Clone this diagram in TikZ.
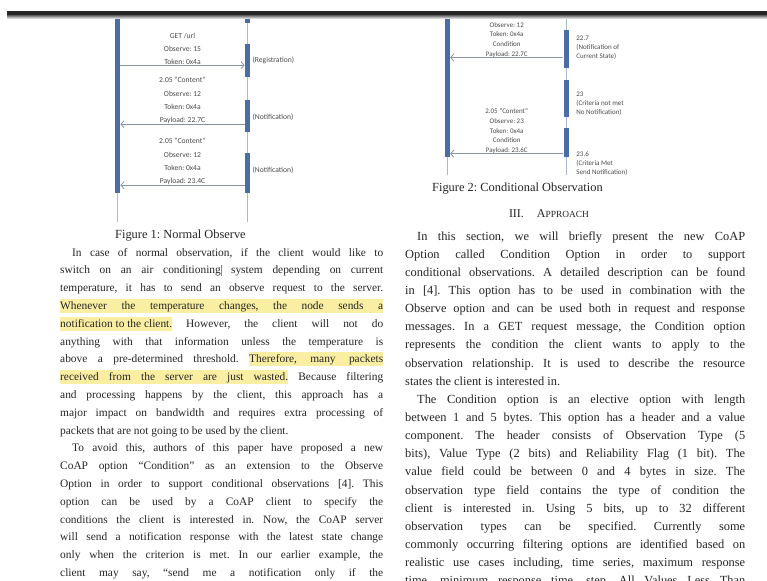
\documentclass[tikz,border=0pt]{standalone}
\usepackage{fontspec}
\setmainfont{Liberation Serif}
\newfontfamily\figfont{Carlito}
\usepackage{tikz}
\usetikzlibrary{arrows.meta, positioning, calc}

\definecolor{barblue}{HTML}{4A6DA3}
\definecolor{lifeblue}{HTML}{A8BAD3}
\definecolor{msggray}{HTML}{8794A6}
\definecolor{hlyellow}{HTML}{FAEEA2}
\definecolor{inkgray}{HTML}{262626}

\newcommand{\jline}[1]{\makebox[\linewidth][s]{#1}}
\newcommand{\hlbox}[1]{{\setlength{\fboxsep}{0pt}\colorbox{hlyellow}{\rule[-3.5pt]{0pt}{14pt}#1}}}
\newcommand{\hlpart}[2]{\hlbox{\makebox[#1][s]{#2}}}
\newcommand{\hlline}[1]{\hlbox{\jline{#1}}}
\newcommand{\cursormark}{\textcolor{black!45}{\rule[-2pt]{0.5pt}{11pt}}}

\tikzset{
  actbar/.style    = {rectangle, fill=barblue, draw=none, inner sep=0pt,
                      minimum width=5.5pt, anchor=north},
  lifeline/.style  = {draw=lifeblue, line width=0.9pt},
  msg/.style       = {draw=msggray, line width=0.8pt,
                      -{Straight Barb[length=3pt,width=7pt]}},
  bodytext/.style  = {inner sep=0pt, anchor=base west, align=justify,
                      text=black!85}
}

\begin{document}
\frenchspacing
\begin{tikzpicture}[
    x=1pt, y=-1pt,
    msglabel/.style   = {inner sep=0pt, align=center, text=black!70, anchor=south,
                         font=\figfont\fontsize{7.6}{13.3}\selectfont},
    smalllabel/.style = {inner sep=0pt, align=center, text=black!70, anchor=south,
                         font=\figfont\fontsize{7}{9.6}\selectfont},
    sidelabel/.style  = {inner sep=0pt, align=left, text=black!70, anchor=west,
                         font=\figfont\fontsize{7}{8.7}\selectfont},
    caption/.style    = {inner sep=0pt, anchor=base west, text=black!85,
                         font=\fontsize{12.4}{14}\selectfont}
]
\useasboundingbox (0,0) rectangle (767,580);
\clip (0,0) rectangle (767,580);
\fill[white] (0,0) rectangle (767,580);

% Figure 1: normal observe
\coordinate (cli1top) at (117.5,12);
\coordinate (cli1end) at (117.5,222);
\coordinate (srv1top) at (247.5,12);
\coordinate (srv1end) at (247.5,222);
\draw[lifeline] (cli1top) -- (cli1end);
\draw[lifeline] (srv1top) -- (srv1end);

\node[actbar, minimum height=181pt] (cli1) at (117.5,12) {};
\node[actbar, minimum height=11pt] (srv1a) at (247.5,12) {};
\node[actbar, minimum height=33pt] (srv1b) at (247.5,44) {};
\node[actbar, minimum height=32pt] (srv1c) at (247.5,100) {};
\node[actbar, minimum height=40pt] (srv1d) at (247.5,153) {};

\coordinate (get1) at ([yshift=-4.5pt]srv1b.west);
\draw[msg] (cli1.east |- get1) -- (get1);
\node[msglabel] at ($(cli1.east |- get1)!0.5!(get1)$) (getlbl) {
    GET /url\\Observe: 15\\Token: 0x4a
};

\coordinate (note1) at ([yshift=-8pt]srv1c.west);
\draw[msg] (note1) -- (cli1.east |- note1);
\node[msglabel] at ($(cli1.east |- note1)!0.5!(note1)$) (note1lbl) {
    2.05 “Content”\\Observe: 12\\Token: 0x4a\\Payload: 22.7C
};

\coordinate (note2) at ([yshift=-12pt]srv1d.west);
\draw[msg] (note2) -- (cli1.east |- note2);
\node[msglabel] at ($(cli1.east |- note2)!0.5!(note2)$) (note2lbl) {
    2.05 “Content”\\Observe: 12\\Token: 0x4a\\Payload: 23.4C
};

\node[sidelabel, font=\figfont\fontsize{7.6}{9}\selectfont
] at ($(srv1b.east) + (2pt, 0)$) (reglbl) {(Registration)};
\node[sidelabel, font=\figfont\fontsize{7.6}{9}\selectfont
] at ($(srv1c.east) + (2pt, 1)$) (notelbl1) {(Notification)};
\node[sidelabel, font=\figfont\fontsize{7.6}{9}\selectfont
] at ($(srv1d.east) + (2pt, -3)$) (notelbl2) {(Notification)};

\node[caption] at (115,238) (cap1) {Figure 1: Normal Observe};

% Figure 2: conditional observation
\coordinate (cli2top) at (447.5,12);
\coordinate (cli2end) at (447.5,175);
\coordinate (srv2top) at (566,12);
\coordinate (srv2end) at (566,175);
\draw[lifeline] (cli2top) -- (cli2end);
\draw[lifeline] (srv2top) -- (srv2end);

\node[actbar, minimum width=5pt, minimum height=145pt] (cli2) at (447.5,12) {};
\node[actbar, minimum width=5pt, minimum height=4pt] (srv2a) at (566,12) {};
\node[actbar, minimum width=5pt, minimum height=38pt] (srv2b) at (566,30) {};
\node[actbar, minimum width=5pt, minimum height=37pt] (srv2c) at (566,80) {};
\node[actbar, minimum width=5pt, minimum height=29pt] (srv2d) at (566,128) {};

\coordinate (cond1) at ([yshift=-8.3pt]srv2b.west);
\draw[msg] (cond1) -- (cli2.east |- cond1);
\node[smalllabel] at ($(cli2.east |- cond1)!0.5!(cond1)$) (cond1lbl) {
    2.05 “Content”\\Observe: 12\\Token: 0x4a\\Condition\\Payload: 22.7C
};

\coordinate (cond2) at ([yshift=-11pt]srv2d.west);
\draw[msg] (cond2) -- (cli2.east |- cond2);
\node[smalllabel] at ($(cli2.east |- cond2)!0.5!(cond2)$) (cond2lbl) {
    2.05 “Content”\\Observe: 23\\Token: 0x4a\\Condition\\Payload: 23.6C
};

\node[sidelabel] at ($(srv2b.east) + (7.5, -1.5)$) (statelbl1) {
    22.7\\(Notification of\\Current State)
};
\node[sidelabel] at ($(srv2c.east) + (7.5, 5)$) (statelbl2) {
    23\\(Criteria not met\\No Notification)
};
\node[sidelabel] at ($(srv2d.east) + (7.5, 21)$) (statelbl3) {
    23.6\\(Criteria Met\\Send Notification)
};

\node[caption] at (432,191) (cap2) {Figure 2: Conditional Observation};

\node[inner sep=0pt, anchor=base, text=black!85, font=\fontsize{12}{14}\selectfont
] at (549,217) (sec3) {III.\hspace{13pt}A{\fontsize{9.4}{11}\selectfont PPROACH}};

% Left column
\node[bodytext, text width=323pt, font=\fontsize{11.4}{17.8}\selectfont
] at (60,256) (leftcol) {
\jline{\hspace*{12pt}In case of normal observation, if the client would like to}\\
\jline{switch on an air conditioning\cursormark{} system depending on current}\\
\jline{temperature, it has to send an observe request to the server.}\\
\hlline{Whenever the temperature changes, the node sends a}\\
\jline{\hlpart{112pt}{notification to the client.} However, the client will not do}\\
\jline{anything with that information unless the temperature is}\\
\jline{above a pre-determined threshold. \hlpart{134pt}{Therefore, many packets}}\\
\jline{\hlpart{228pt}{received from the server are just wasted.} Because filtering}\\
\jline{and processing happens by the client, this approach has a}\\
\jline{major impact on bandwidth and requires extra processing of}\\
packets that are not going to be used by the client.\\
\jline{\hspace*{12pt}To avoid this, authors of this paper have proposed a new}\\
\jline{CoAP option ``Condition'' as an extension to the Observe}\\
\jline{Option in order to support conditional observations [4]. This}\\
\jline{option can be used by a CoAP client to specify the}\\
\jline{conditions the client is interested in. Now, the CoAP server}\\
\jline{will send a notification response with the latest state change}\\
\jline{only when the criterion is met. In our earlier example, the}\\
\jline{client may say, ``send me a notification only if the}
};

% Right column
\node[bodytext, text width=340pt, font=\fontsize{12.4}{18.15}\selectfont
] at (405,240) (rightcol) {
\jline{\hspace*{12pt}In this section, we will briefly present the new CoAP}\\
\jline{Option called Condition Option in order to support}\\
\jline{conditional observations. A detailed description can be found}\\
\jline{in [4]. This option has to be used in combination with the}\\
\jline{Observe option and can be used both in request and response}\\
\jline{messages. In a GET request message, the Condition option}\\
\jline{represents the condition the client wants to apply to the}\\
\jline{observation relationship. It is used to describe the resource}\\
states the client is interested in.\\
\jline{\hspace*{12pt}The Condition option is an elective option with length}\\
\jline{between 1 and 5 bytes. This option has a header and a value}\\
\jline{component. The header consists of Observation Type (5}\\
\jline{bits), Value Type (2 bits) and Reliability Flag (1 bit). The}\\
\jline{value field could be between 0 and 4 bytes in size. The}\\
\jline{observation type field contains the type of condition the}\\
\jline{client is interested in. Using 5 bits, up to 32 different}\\
\jline{observation types can be specified. Currently some}\\
\jline{commonly occurring filtering options are identified based on}\\
\jline{realistic use cases including, time series, maximum response}\\
\jline{time, minimum response time, step, All Values Less Than}
};

% Viewer edge
\fill[white] (0,0) rectangle (767,11.5);
\fill[inkgray] (7,11.5) rectangle (767,15.5);
\shade[top color=black!55, bottom color=white] (7,15.5) rectangle (767,19);

\end{tikzpicture}
\end{document}
